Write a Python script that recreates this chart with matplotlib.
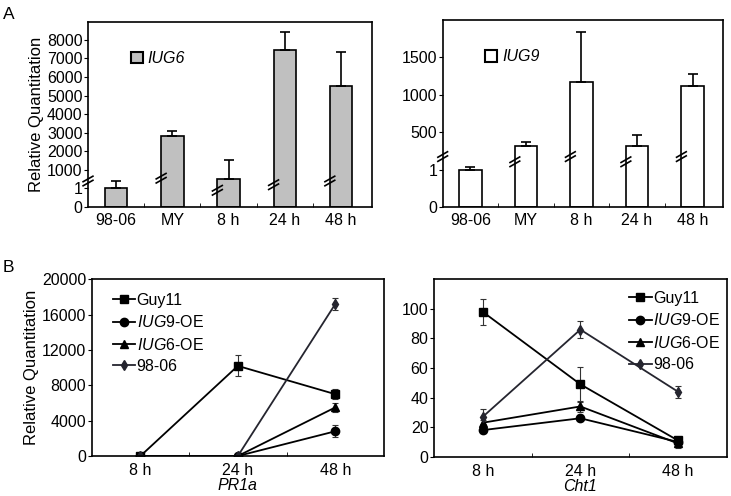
import matplotlib
matplotlib.use('Agg')
import matplotlib.pyplot as plt
import numpy as np
from matplotlib.patches import Patch
from matplotlib.lines import Line2D

plt.rcParams['font.family'] = ['Liberation Sans', 'DejaVu Sans']
plt.rcParams['mathtext.fontset'] = 'custom'
plt.rcParams['mathtext.it'] = 'Liberation Sans:italic'
plt.rcParams['mathtext.rm'] = 'Liberation Sans'
plt.rcParams['font.size'] = 11

# panel A data
cats_a = ['98-06', 'MY', '8 h', '24 h', '48 h']
iug6 = [1, 2820, 500, 7460, 5490]
iug6_err = [420, 280, 1030, 960, 1880]
iug9 = [1, 320, 1175, 310, 1120]
iug9_err = [40, 45, 665, 160, 155]

# panel B data
times = ['8 h', '24 h', '48 h']
series = ['Guy11', 'IUG9-OE', 'IUG6-OE', '98-06']
pr1a = {'Guy11': [0, 10200, 7000],
        'IUG9-OE': [0, 0, 2800],
        'IUG6-OE': [0, 0, 5500],
        '98-06': [0, 0, 17200]}
pr1a_err = {'Guy11': [0, 1200, 600],
            'IUG9-OE': [0, 0, 700],
            'IUG6-OE': [0, 0, 500],
            '98-06': [0, 0, 700]}
cht1 = {'Guy11': [98, 49, 11],
        'IUG9-OE': [18, 26, 10],
        'IUG6-OE': [23, 34, 9],
        '98-06': [27, 86, 44]}
cht1_err = {'Guy11': [9, 12, 2],
            'IUG9-OE': [2, 2, 2],
            'IUG6-OE': [2, 4, 3],
            '98-06': [5, 6, 4]}

labels = {'Guy11': 'Guy11', 'IUG9-OE': r'$\it{IUG9}$-OE',
          'IUG6-OE': r'$\it{IUG6}$-OE', '98-06': '98-06'}
markers = {'Guy11': ('s', 5.5), 'IUG9-OE': ('o', 6), 'IUG6-OE': ('^', 5.5), '98-06': ('d', 5)}
colors = {'Guy11': 'black', 'IUG9-OE': 'black', 'IUG6-OE': 'black', '98-06': '#25252f'}
FS = 11.5


def make_scale(step):
    def fwd(v):
        v = np.asarray(v, dtype=float)
        return np.where(v <= 1, v, 1 + (v - 1) / step)

    def inv(u):
        u = np.asarray(u, dtype=float)
        return np.where(u <= 1, u, 1 + (u - 1) * step)
    return fwd, inv


def brk(ax, x, u, inv, du, gap, dx=0.1):
    # little "//" break mark
    for off in (-gap / 2, gap / 2):
        ax.plot([x - dx, x + dx], [float(inv(u + off - du)), float(inv(u + off + du))],
                color='black', lw=1.2, clip_on=False, zorder=5, solid_capstyle='butt')


def bar_panel(ax, vals, errs, step, top, ticks, color, name, brk_u, ylab_brk, du, gap):
    fwd, inv = make_scale(step)
    ax.set_yscale('function', functions=(fwd, inv))
    x = np.arange(len(cats_a))
    ax.bar(x, vals, width=0.4, color=color, edgecolor='black', linewidth=1.2, zorder=2)
    ax.errorbar(x, vals, yerr=[np.zeros(len(vals)), errs], fmt='none', ecolor='black',
                elinewidth=1.2, capsize=3.5, capthick=1.2, zorder=3)
    ax.set_ylim(0, top)
    ax.set_xlim(-0.5, 4.55)
    ax.set_yticks(ticks)
    ax.set_yticklabels([str(t) for t in ticks])
    ax.yaxis.set_minor_locator(plt.NullLocator())
    ax.set_xticks(x)
    ax.set_xticklabels(cats_a)
    ax.tick_params(axis='x', length=0, labelsize=FS, pad=4)
    ax.tick_params(axis='y', direction='out', length=3, labelsize=FS, pad=1)
    ax.set_xticks(x[:-1] + 0.5, minor=True)
    ax.tick_params(axis='x', which='minor', direction='in', length=3)
    for i in range(1, len(x)):
        brk(ax, x[i] - 0.2, brk_u[i - 1], inv, du, gap)
    brk(ax, -0.5, ylab_brk, inv, du, gap)
    h = Patch(facecolor=color, edgecolor='black', linewidth=1.5)
    ax.legend([h], [name], loc='upper left', bbox_to_anchor=(0.1, 0.92), frameon=False,
              handlelength=0.75, handleheight=0.75, handletextpad=0.3, prop={'style': 'italic', 'size': FS})
    for s in ax.spines.values():
        s.set_linewidth(1.2)


def line_panel(ax, data, err, top, ticks, xl, loc, anchor):
    x = np.arange(len(times))
    for s in series:
        m, ms = markers[s]
        ax.errorbar(x, data[s], yerr=err[s], color=colors[s], marker=m, markersize=ms,
                    lw=1.3, elinewidth=0.8, capsize=2.5, capthick=0.8, ecolor='#333333')
    ax.set_xlim(-0.5, 2.5)
    ax.set_ylim(0, top)
    ax.set_yticks(ticks)
    ax.set_xticks(x)
    ax.set_xticklabels(times)
    ax.tick_params(axis='x', length=0, labelsize=FS, pad=5)
    ax.tick_params(axis='y', direction='out', length=3, labelsize=FS, pad=1)
    ax.set_xticks(x[:-1] + 0.5, minor=True)
    ax.tick_params(axis='x', which='minor', direction='in', length=3)
    ax.set_xlabel(xl, style='italic', fontsize=FS, labelpad=0)
    handles = [Line2D([], [], color=colors[s], marker=markers[s][0], markersize=markers[s][1], lw=1.3)
               for s in series]
    ax.legend(handles, [labels[s] for s in series], loc=loc, bbox_to_anchor=anchor, frameon=False,
              handlelength=1.4, handletextpad=0.1, labelspacing=0.4, fontsize=FS, borderaxespad=0)
    for s in ax.spines.values():
        s.set_linewidth(1.2)


fig = plt.figure(figsize=(7.31, 4.96), dpi=100)
ax1 = fig.add_axes([0.1204, 0.5827, 0.3885, 0.373])
ax2 = fig.add_axes([0.6056, 0.5827, 0.3835, 0.377])
ax3 = fig.add_axes([0.1254, 0.0806, 0.3999, 0.3563])
ax4 = fig.add_axes([0.5937, 0.0792, 0.4004, 0.3577])

bar_panel(ax1, iug6, iug6_err, 999, 8960, [0, 1, 1000, 2000, 3000, 4000, 5000, 6000, 7000, 8000],
          '#c0c0c0', 'IUG6', [1.55, 0.9, 1.2, 1.4], 1.4, 0.17, 0.22)
bar_panel(ax2, iug9, iug9_err, 499, 2000, [0, 1, 500, 1000, 1500],
          'white', 'IUG9', [1.21, 1.35, 1.21, 1.35], 1.35, 0.085, 0.11)
ax1.set_ylabel('Relative Quantitation', fontsize=12, labelpad=2)

line_panel(ax3, pr1a, pr1a_err, 20000, [0, 4000, 8000, 12000, 16000, 20000], 'PR1a',
           'upper left', (0.05, 0.96))
line_panel(ax4, cht1, cht1_err, 120, [0, 20, 40, 60, 80, 100], 'Cht1',
           'upper right', (1.0, 0.97))
ax3.set_ylabel('Relative Quantitation', fontsize=12, labelpad=2)

fig.text(0.004, 0.985, 'A', fontsize=12.5, va='top')
fig.text(0.004, 0.475, 'B', fontsize=12.5, va='top')

fig.savefig('out.png', dpi=100)
